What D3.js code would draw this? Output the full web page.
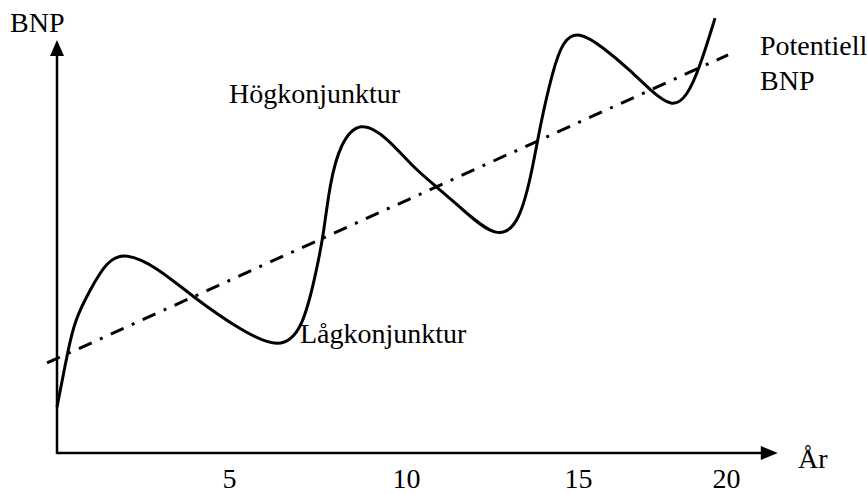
<!DOCTYPE html>
<html>
<head>
<meta charset="utf-8">
<script src="https://cdn.jsdelivr.net/npm/d3@7"></script>
<style>
    body { margin: 0; background: #fff; }
    text { font-family: "Liberation Serif", "Times New Roman", serif; fill: #000; }
</style>
</head>
<body>
<div id="chart"></div>
<script>
// BNP (index) over the years
const years = [0, 0.32, 0.52, 0.96, 1.45, 1.98, 2.91, 3.95, 5.31, 6.44, 7.09, 7.49, 7.66, 7.85, 8.14, 8.70,
    9.46, 10.2, 10.9, 11.66, 12.67, 13.31, 13.69, 13.9, 14.27, 14.56, 15, 15.84, 16.76, 17.43, 18.18, 18.68, 19.12, 19.63];
const bnp = [11.1, 24.9, 32.2, 39.5, 46.5, 48.6, 45.0, 37.8, 29.8, 25.0, 29.8, 45.0, 52.3, 65.4, 75.0, 80.6,
    76.5, 69.2, 64.4, 58.8, 51.6, 55.7, 69.2, 79.4, 92.7, 99.8, 102.2, 98.3, 92.7, 87.9, 83.6, 86.2, 93.5, 105.3];

// potentiell BNP: straight trend line
const trendYears = [-0.29, 20.07];
const trendBnp = [21.8, 96.4];

const tickYears = [5, 10, 15, 20];
// where the tick labels sit on the drawn axis (not evenly spaced in the original)
const tickPixels = [229, 406, 578, 726];

const width = 867, height = 494;
const origin = {x: 57, y: 453};

const svg = d3.select("#chart").append("svg")
    .attr("width", width)
    .attr("height", height);

let x = d3.scaleLinear()
    .domain([0].concat(tickYears))
    .range([origin.x].concat(tickPixels));

let y = d3.scaleLinear()
    .domain([0, 100])
    .range([origin.y, 40]);

const xEnd = 21.75;  // arrow tip of the year axis

// axes
svg.append("line")
    .attr("x1", x(0)).attr("y1", y(0))
    .attr("x2", x(xEnd) - 10).attr("y2", y(0))
    .attr("stroke", "#000").attr("stroke-width", 2.5);
svg.append("line")
    .attr("x1", x(0)).attr("y1", y(0) + 1)
    .attr("x2", x(0)).attr("y2", y(100) + 10)
    .attr("stroke", "#000").attr("stroke-width", 2.5);

// arrow heads
svg.append("path")
    .attr("d", `M${x(xEnd)},${y(0)} L${x(xEnd) - 17},${y(0) - 7} L${x(xEnd) - 17},${y(0) + 7} Z`)
    .attr("fill", "#000");
svg.append("path")
    .attr("d", `M${x(0)},${y(100)} L${x(0) - 7},${y(100) + 16} L${x(0) + 7},${y(100) + 16} Z`)
    .attr("fill", "#000");

// tick labels, no tick marks
const xAxis = svg.append("g")
    .attr("transform", "translate(0," + y(0) + ")")
    .call(d3.axisBottom(x).tickValues(tickYears).tickSize(0).tickPadding(15));
xAxis.select(".domain").remove();
xAxis.selectAll("text")
    .style("font-family", "Liberation Serif, serif")
    .style("font-size", "28px")
    .attr("fill", "#000");

// trend line
svg.append("line")
    .attr("x1", x(trendYears[0])).attr("y1", y(trendBnp[0]))
    .attr("x2", x(trendYears[1])).attr("y2", y(trendBnp[1]))
    .attr("stroke", "#000")
    .attr("stroke-width", 3)
    .attr("stroke-dasharray", "14,9,3,9");

// business cycle, smoothed through the read points
const line = d3.line()
    .x(function(d, i) { return x(years[i]); })
    .y(function(d) { return y(d); })
    .curve(d3.curveBasis);

svg.append("path")
    .attr("d", line(bnp))
    .attr("fill", "none")
    .attr("stroke", "#000")
    .attr("stroke-width", 3);

// labels
const labels = [
    {text: "BNP", x: 10, y: 32},
    {text: "Högkonjunktur", x: 229, y: 103},
    {text: "Lågkonjunktur", x: 300, y: 343},
    {text: "Potentiell", x: 760, y: 55},
    {text: "BNP", x: 760, y: 90},
    {text: "År", x: 798, y: 468}
];
svg.selectAll(".label")
    .data(labels)
    .enter().append("text")
    .attr("class", "label")
    .attr("x", function(d) { return d.x; })
    .attr("y", function(d) { return d.y; })
    .style("font-size", "28px")
    .text(function(d) { return d.text; });
</script>
</body>
</html>
